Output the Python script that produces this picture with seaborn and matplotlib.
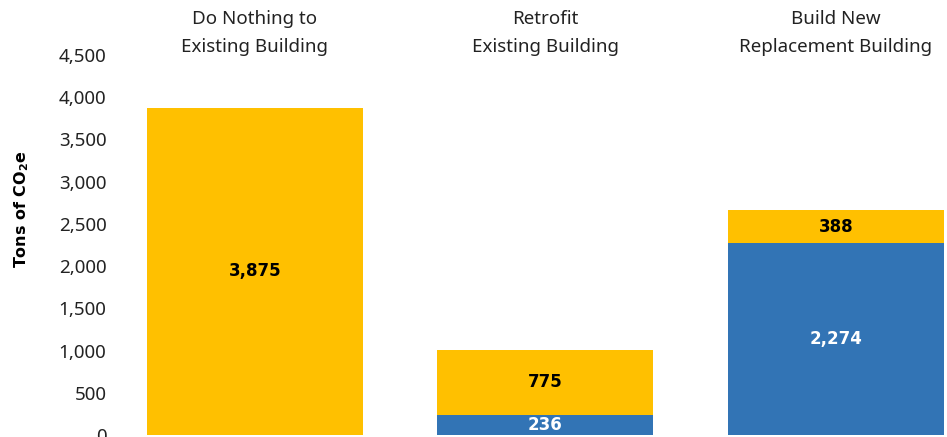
import matplotlib
matplotlib.use("Agg")
import matplotlib.pyplot as plt
import matplotlib.transforms as mtransforms
import seaborn as sns
import pandas as pd

categories = ["Do Nothing to\nExisting Building", "Retrofit\nExisting Building", "Build New\nReplacement Building"]
embodied = [0, 236, 2274]        # blue, bottom
operational = [3875, 775, 388]   # yellow, top
yticks = [0, 500, 1000, 1500, 2000, 2500, 3000, 3500, 4000, 4500]

YELLOW = "#FFC000"
BLUE = "#3274B5"

sns.set_theme(style="white")
plt.rcParams["font.family"] = ["Noto Sans", "DejaVu Sans"]
plt.rcParams["mathtext.fontset"] = "custom"
plt.rcParams["mathtext.bf"] = "DejaVu Sans:bold"
plt.rcParams["mathtext.rm"] = "DejaVu Sans"

BOLD = ["DejaVu Sans"]

df = pd.DataFrame({
    "cat": categories,
    "blue": embodied,
    "yellow": operational,
})
df["total"] = df["blue"] + df["yellow"]

fig = plt.figure(figsize=(9.47, 4.37), dpi=100)
ax = fig.add_axes([112 / 947, 2 / 437, (946 - 112) / 947, (435 - 55) / 437])

sns.barplot(data=df, x="cat", y="total", color=YELLOW, saturation=1, width=0.744, ax=ax, linewidth=0)
sns.barplot(data=df, x="cat", y="blue", color=BLUE, saturation=1, width=0.744, ax=ax, linewidth=0)

ax.set_xlim(-0.492, 2.379)
ax.set_ylim(0, 4500)
ax.set_yticks(yticks)
ax.set_yticklabels([f"{v:,}" for v in yticks], fontsize=13.5, color="#222222")
ax.tick_params(axis="y", length=0, pad=4)
ax.set_xticks([])
ax.set_xlabel("")
ax.set_ylabel(r"Tons of CO$_{\mathbf{2}}$e", fontsize=11.5, fontweight="bold", family=BOLD, color="black")
ax.yaxis.set_label_coords(-0.097, 0.595)
for s in ax.spines.values():
    s.set_visible(False)

trans = mtransforms.blended_transform_factory(ax.transData, ax.transAxes)
for i, c in enumerate(categories):
    l1, l2 = c.split("\n")
    ax.text(i, 1.095, l1, transform=trans, ha="center", va="center", fontsize=13.5, color="#222222", clip_on=False)
    ax.text(i, 1.021, l2, transform=trans, ha="center", va="center", fontsize=13.5, color="#222222", clip_on=False)

for i in range(len(categories)):
    b = embodied[i]
    y = operational[i]
    if y > 0:
        ax.text(i, b + y / 2, f"{y:,}", ha="center", va="center", fontsize=12, fontweight="bold",
                family=BOLD, color="black")
    if b > 0:
        ax.text(i, b / 2, f"{b:,}", ha="center", va="center", fontsize=12, fontweight="bold",
                family=BOLD, color="white")

fig.savefig("out.png", dpi=100)
